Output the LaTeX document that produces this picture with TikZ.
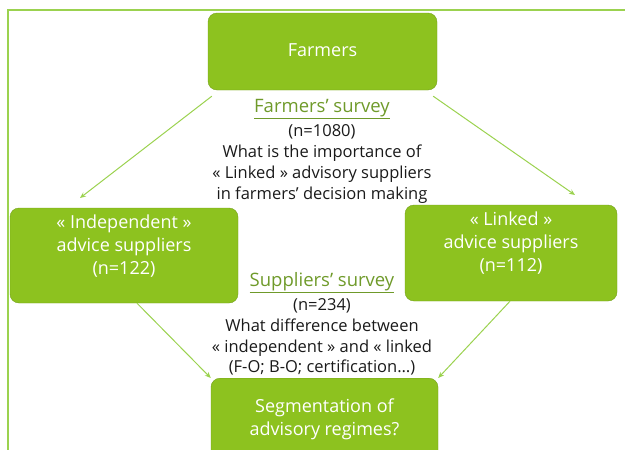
\documentclass[tikz,border=0pt]{standalone}
\usepackage{fontspec}
\setmainfont{Open Sans}
\usetikzlibrary{arrows.meta,positioning}
\definecolor{leaf}{HTML}{8DC21F}
\definecolor{leafdark}{HTML}{74A11A}
\definecolor{leaflight}{HTML}{9BD24F}
\definecolor{surveyc}{HTML}{6F9A2A}
\definecolor{inkc}{HTML}{1A1A1A}

\tikzset{
  actor/.style={draw=leafdark,fill=leaf,rounded corners=9pt,inner sep=0pt},
  actortext/.style={text=white,align=center,font=\fontsize{18}{23}\selectfont},
  survey/.style={align=center,text=inkc,font=\fontsize{16.5}{20.7}\selectfont},
  surveytitle/.style={text=surveyc,font=\fontsize{18.5}{22}\selectfont},
  link/.style={leaflight,line width=1pt,-{Stealth[length=6pt,width=5pt]}}
}

\begin{document}
\begin{tikzpicture}[x=1pt,y=-1pt]
\useasboundingbox (0,0) rectangle (625,450);
\draw[leaflight,line width=2pt] (625,10) -- (8,10) -- (8,452);
% boxes
\node[actor,minimum width=229pt,minimum height=77pt] (farmers) at (322.5,51.5) {};
\node[actor,minimum width=228pt,minimum height=95pt] (indep) at (124,255.5) {};
\node[actor,minimum width=212pt,minimum height=96pt] (linked) at (511,253) {};
\node[actor,minimum width=227pt,minimum height=95pt,anchor=north] (segm) at (324.5,378) {};
\node[actortext] (farmerstext) at (322.5,50) {Farmers};
\node[actortext] (indeptext) at (124,246) {« Independent »\\advice suppliers\\(n=122)};
\node[actortext] (linkedtext) at (511,243.5) {« Linked »\\advice suppliers\\(n=112)};
\node[actortext] (segmtext) at (324.5,419) {Segmentation of\\advisory regimes?};
% surveys
\node[surveytitle] (fsurvey) at (322,109) {\underline{Farmers’ survey}};
\node[survey] (fquestion) at (322,164) {(n=1080)\\What is the importance of\\« Linked » advisory suppliers\\in farmers’ decision making};
\node[surveytitle] (ssurvey) at (322,283) {\underline{Suppliers’ survey}};
\node[survey] (squestion) at (322,337) {(n=234)\\What difference between\\« independent » and « linked\\(F-O; B-O; certification…)};
% connectors
\coordinate (c1) at (80,198);
\coordinate (c2) at (575,195);
\draw[link] (farmers.south west) ++(4pt,-6pt) -- (c1);
\draw[link] (farmers.south east) ++(-4pt,-6pt) -- (c2);
\draw[link] (indep.south) ++(13pt,0) -- (segm.north west);
\draw[link] (linked.south) ++(-1pt,0) -- (segm.north east);
\end{tikzpicture}
\end{document}
